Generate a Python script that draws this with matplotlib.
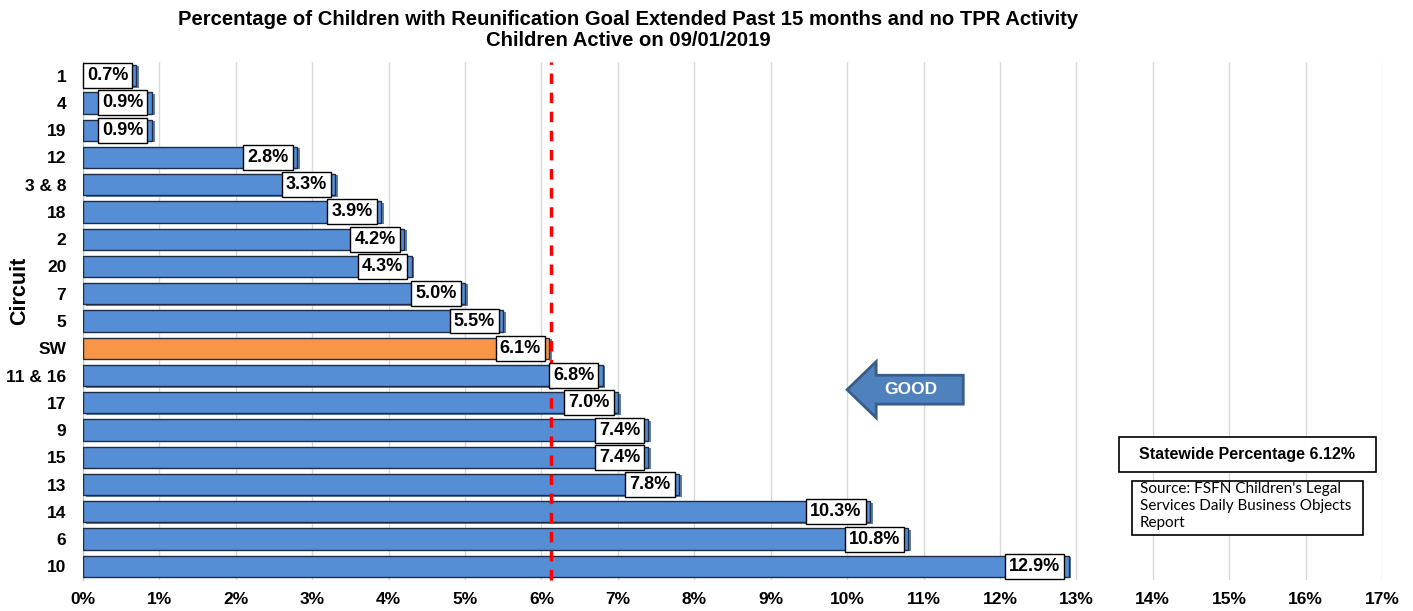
import numpy as np
import matplotlib.pyplot as plt
import matplotlib.patches as mpatches
import matplotlib.patheffects as pe
from matplotlib.ticker import MultipleLocator, FuncFormatter

# circuits, top to bottom
circuits = ['1', '4', '19', '12', '3 & 8', '18', '2', '20', '7', '5', 'SW',
            '11 & 16', '17', '9', '15', '13', '14', '6', '10']
pct = [0.7, 0.9, 0.9, 2.8, 3.3, 3.9, 4.2, 4.3, 5.0, 5.5, 6.1,
       6.8, 7.0, 7.4, 7.4, 7.8, 10.3, 10.8, 12.9]
statewide = 6.12

blue = '#558ed5'
orange = '#f79646'
colors = [orange if c == 'SW' else blue for c in circuits]

fig = plt.figure(figsize=(14.13, 6.11), dpi=100)
ax = fig.add_axes([83 / 1413, 1 - 580 / 611, (1382 - 83) / 1413, (580 - 62) / 611])

y = np.arange(len(circuits))
bars = ax.barh(y, pct, height=0.78, color=colors, edgecolor='#1f2d44', linewidth=1.0, zorder=3)
for b in bars:
    b.set_path_effects([pe.SimplePatchShadow(offset=(2, -1), shadow_rgbFace='#3b5f94', alpha=0.8),
                        pe.Normal()])

# value labels inside the bar ends
for yi, v in zip(y, pct):
    ax.annotate(f'{v:.1f}%', xy=(v, yi), xytext=(-6, 0), textcoords='offset points',
                ha='right', va='center', fontsize=13, fontweight='bold',
                family='Liberation Sans', zorder=5,
                bbox=dict(boxstyle='square,pad=0.22', fc='white', ec='black', lw=1))

# statewide reference line
ax.axvline(statewide, color='#ff0000', lw=2.5, ls=(0, (3, 2.5)), zorder=4, clip_on=False)

ax.set_xlim(0, 17)
ax.set_ylim(len(circuits) - 0.5, -0.5)
ax.xaxis.set_major_locator(MultipleLocator(1))
ax.xaxis.set_major_formatter(FuncFormatter(lambda v, p: f'{v:.0f}%'))
ax.set_yticks(y)
ax.set_yticklabels(circuits)
ax.grid(axis='x', color='#d9d9d9', lw=1, zorder=0)
ax.tick_params(length=0, labelsize=12.5)
ax.tick_params(axis='y', pad=12)
ax.tick_params(axis='x', pad=9)
for lab in ax.get_xticklabels() + ax.get_yticklabels():
    lab.set_fontweight('bold')
    lab.set_family('Liberation Sans')
for s in ['top', 'right', 'bottom']:
    ax.spines[s].set_visible(False)
ax.spines['left'].set_color('#bfbfbf')
ax.set_ylabel('Circuit', fontsize=15.5, fontweight='bold', family='Liberation Sans')
ax.yaxis.set_label_coords(-63 / 1299, (580 - 291) / 518)
ax.yaxis.label.set_va('center')

# GOOD arrow
tip, base, tail = 10.0, 10.38, 11.52
yc, head_h, body_h = 11.52, 1.03, 0.53
arrow = mpatches.Polygon([(tip, yc), (base, yc - head_h), (base, yc - body_h), (tail, yc - body_h),
                          (tail, yc + body_h), (base, yc + body_h), (base, yc + head_h)],
                         closed=True, fc='#4f81bd', ec='#385d8a', lw=2, zorder=6)
ax.add_patch(arrow)
ax.text(10.83, yc, 'GOOD', color='white', fontsize=12.5, fontweight='bold',
        family='Liberation Sans', ha='center', va='center', zorder=7)

# title
fig.text(628 / 1413, 1 - 10 / 611,
         'Percentage of Children with Reunification Goal Extended Past 15 months and no TPR Activity\n'
         'Children Active on 09/01/2019',
         ha='center', va='top', fontsize=14.6, fontweight='bold',
         family='Liberation Sans', linespacing=1.12)

# statewide and source boxes
W, H = 1413, 611
fig.patches.append(mpatches.Rectangle((1119 / W, 1 - 472 / H), 257 / W, 35 / H,
                                      transform=fig.transFigure, fc='white', ec='black', lw=1.2))
fig.text(1247 / W, 1 - 454.5 / H, 'Statewide Percentage 6.12%', ha='center', va='center',
         fontsize=11.5, fontweight='bold', family='Liberation Sans')
fig.patches.append(mpatches.Rectangle((1132 / W, 1 - 535 / H), 231 / W, 54 / H,
                                      transform=fig.transFigure, fc='white', ec='black', lw=1.2))
fig.text(1140 / W, 1 - 482 / H, "Source: FSFN Children's Legal\nServices Daily Business Objects\nReport",
         ha='left', va='top', fontsize=11, family='Lato', linespacing=1.25)

fig.savefig('out.png', dpi=100)
